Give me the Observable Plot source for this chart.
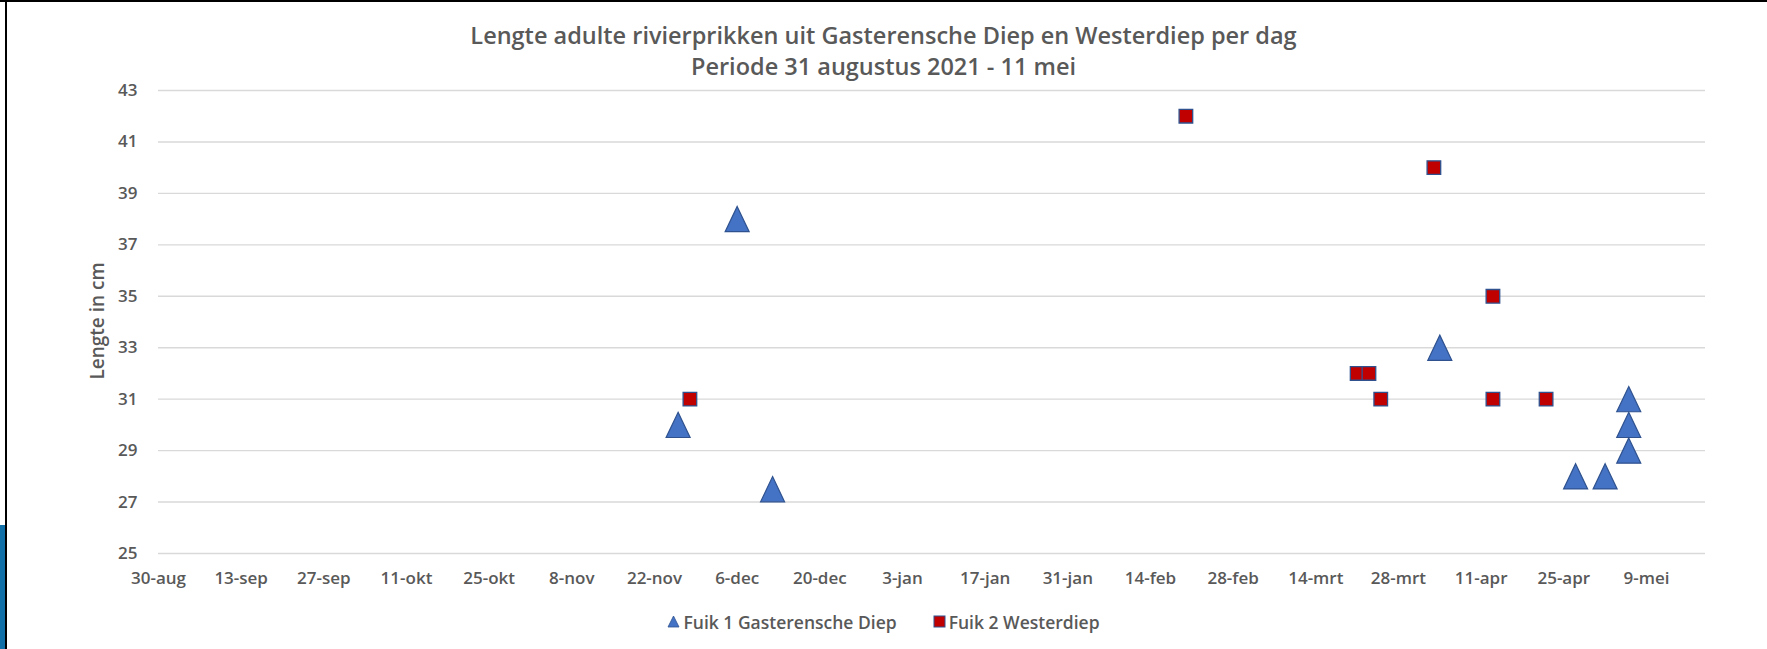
<!DOCTYPE html>
<html>
<head>
<meta charset="utf-8">
<script src="https://cdn.jsdelivr.net/npm/d3@7"></script>
<script src="https://cdn.jsdelivr.net/npm/@observablehq/plot@0.6"></script>
<style>
html, body { margin: 0; padding: 0; background: #fff; }
#page { position: relative; width: 1767px; height: 649px; overflow: hidden; background: #fff; font-family: "Open Sans", sans-serif; color: #595959; }
#topline { position: absolute; left: 0; top: 0; width: 1767px; height: 2px; background: #000; }
#leftline { position: absolute; left: 5px; top: 0; width: 2px; height: 649px; background: #000; }
#bluebar { position: absolute; left: 0; top: 525px; width: 5px; height: 124px; background: #0F6FA6; }
#title { position: absolute; left: 0; top: 20px; width: 1767px; text-align: center; font-weight: 600; font-size: 23.5px; line-height: 31px; }
#chart { position: absolute; left: 0; top: 66px; }
#ylabel { position: absolute; left: 97px; top: 321px; transform: translate(-50%, -50%) rotate(-90deg); white-space: nowrap; font-size: 19px; font-weight: 600; line-height: 22px; }
#legend { position: absolute; left: 0; top: 608px; width: 1767px; text-align: center; font-size: 17.5px; font-weight: 600; line-height: 26px; }
#legend .item { display: inline-flex; align-items: center; margin: 0 18px; }
#legend svg { margin-right: 3px; }
</style>
</head>
<body>
<div id="page">
  <div id="title"></div>
  <div id="chart"></div>
  <div id="ylabel"></div>
  <div id="legend"></div>
  <div id="topline"></div>
  <div id="leftline"></div>
  <div id="bluebar"></div>
</div>
<script>
// ---- data ----
const titleLines = ["Lengte adulte rivierprikken uit Gasterensche Diep en Westerdiep per dag", "Periode 31 augustus 2021 - 11 mei"];
const yLabel = "Lengte in cm";
const seriesNames = ["Fuik 1 Gasterensche Diep", "Fuik 2 Westerdiep"];

const fuik1Dates = ["2021-11-26", "2021-12-06", "2021-12-12", "2022-04-04", "2022-04-27", "2022-05-02", "2022-05-06", "2022-05-06", "2022-05-06"];
const fuik1Lengths = [30, 38, 27.5, 33, 28, 28, 31, 30, 29];

const fuik2Dates = ["2021-11-28", "2022-02-20", "2022-03-21", "2022-03-23", "2022-03-25", "2022-04-03", "2022-04-13", "2022-04-13", "2022-04-22"];
const fuik2Lengths = [31, 42, 32, 32, 31, 40, 35, 31, 31];

const xDomain = ["2021-08-30", "2022-05-19"];
const xTickDates = ["2021-08-30", "2021-09-13", "2021-09-27", "2021-10-11", "2021-10-25", "2021-11-08", "2021-11-22", "2021-12-06", "2021-12-20", "2022-01-03", "2022-01-17", "2022-01-31", "2022-02-14", "2022-02-28", "2022-03-14", "2022-03-28", "2022-04-11", "2022-04-25", "2022-05-09"];
const xTickLabels = ["30-aug", "13-sep", "27-sep", "11-okt", "25-okt", "8-nov", "22-nov", "6-dec", "20-dec", "3-jan", "17-jan", "31-jan", "14-feb", "28-feb", "14-mrt", "28-mrt", "11-apr", "25-apr", "9-mei"];
const yTicks = [25, 27, 29, 31, 33, 35, 37, 39, 41, 43];

const colors = { fuik1: "#4472C4", fuik2: "#C00000", outline: "#2F528F", grid: "#D9D9D9", text: "#595959" };

// ---- build ----
const parse = d3.utcParse("%Y-%m-%d");
const fmtKey = d3.utcFormat("%Y-%m-%d");
const labelMap = new Map(xTickDates.map((d, i) => [d, xTickLabels[i]]));
const fuik1 = fuik1Dates.map((d, i) => ({ date: parse(d), length: fuik1Lengths[i] }));
const fuik2 = fuik2Dates.map((d, i) => ({ date: parse(d), length: fuik2Lengths[i] }));

const triangle = { draw(ctx, size) { const r = Math.sqrt(size / Math.PI); ctx.moveTo(0, -r * 1.05); ctx.lineTo(r, r * 1.05); ctx.lineTo(-r, r * 1.05); ctx.closePath(); } };
const square = { draw(ctx, size) { const r = Math.sqrt(size / Math.PI); ctx.rect(-r, -r, 2 * r, 2 * r); } };

document.getElementById("title").innerHTML = titleLines.map(t => `<div>${t}</div>`).join("");
document.getElementById("ylabel").textContent = yLabel;

const chart = Plot.plot({
  width: 1767,
  height: 534,
  marginLeft: 158,
  marginRight: 62,
  marginTop: 24,
  marginBottom: 47,
  style: { fontFamily: "Open Sans", fontSize: "17px", fontWeight: 600, color: colors.text, background: "transparent" },
  x: { type: "utc", domain: xDomain.map(parse) },
  y: { domain: [25, 43] },
  marks: [
    Plot.gridY(yTicks, { stroke: colors.grid, strokeOpacity: 1, strokeWidth: 1.4 }),
    Plot.axisX(xTickDates.map(parse), { tickSize: 0, tickPadding: 18, tickFormat: d => labelMap.get(fmtKey(d)), label: null, fill: colors.text, fontSize: 17 }),
    Plot.axisY(yTicks, { tickSize: 0, tickPadding: 21, label: null, fill: colors.text, fontSize: 17 }),
    Plot.dot(fuik2, { x: "date", y: "length", symbol: square, r: 6.8, fill: colors.fuik2, stroke: colors.outline, strokeWidth: 1.3 }),
    Plot.dot(fuik1, { x: "date", y: "length", symbol: triangle, r: 12, fill: colors.fuik1, stroke: colors.outline, strokeWidth: 1.2 })
  ]
});
document.getElementById("chart").appendChild(chart);

const legend = document.getElementById("legend");
legend.innerHTML =
  `<span class="item"><svg width="13" height="13" viewBox="-6.5 -6.5 13 13"><path d="M0,-5.5L5.5,5.5L-5.5,5.5Z" fill="${colors.fuik1}" stroke="${colors.outline}" stroke-width="0.8"/></svg>${seriesNames[0]}</span>` +
  `<span class="item"><svg width="13" height="13" viewBox="-6.5 -6.5 13 13"><rect x="-5.5" y="-5.5" width="11" height="11" fill="${colors.fuik2}" stroke="${colors.outline}" stroke-width="1"/></svg>${seriesNames[1]}</span>`;
</script>
</body>
</html>
